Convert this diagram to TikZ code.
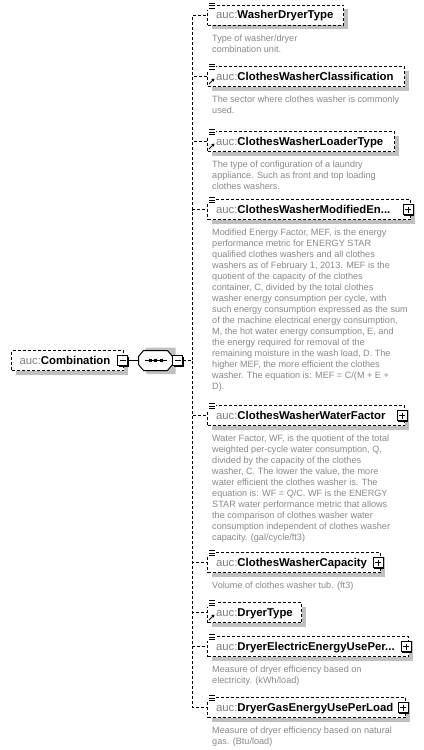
\documentclass[tikz,border=0pt]{standalone}
\usepackage{fontspec}
\setmainfont{Liberation Sans}
\usetikzlibrary{shadows,arrows.meta}
\setlength{\parindent}{0pt}
\definecolor{aucgray}{RGB}{128,128,128}
\definecolor{descgray}{RGB}{136,136,136}
\definecolor{shdgray}{RGB}{192,192,192}
\newcommand\aucp{\textcolor{aucgray}{\mdseries auc:}}
\newcommand\elemicon[1]{%
  \fill[white] ([shift={(-0.5,-3.5)}]#1.north west) rectangle ([shift={(9,5)}]#1.north west);
  \draw[line width=1bp] ([shift={(2,-1.5)}]#1.north west) -- ++(6,0)
    ([shift={(2,1)}]#1.north west) -- ++(6,0)
    ([shift={(2,3.5)}]#1.north west) -- ++(6,0);}
\newcommand\refarrow[1]{%
  \draw[line width=1bp, -{Triangle[length=2.8bp,width=3.2bp]}] ([shift={(2,-3)}]#1.south west) -- ++(5.5,-5.5);}
\tikzset{
  elem/.style={draw, dash pattern=on 3bp off 2bp, line width=1bp, fill=white, anchor=north west,
    minimum height=20bp, inner xsep=0pt, inner ysep=0pt, text height=8bp, text depth=1bp, align=left,
    font=\fontsize{11.4}{13}\selectfont\bfseries,
    general shadow={fill=shdgray, shadow xshift=4bp, shadow yshift=-4bp}},
  desc/.style={anchor=north west, inner sep=0pt, align=left, text=descgray, font=\fontsize{9.15}{11}\selectfont},
  btn/.style={draw, solid, line width=1bp, fill=white, minimum size=10bp, inner sep=0pt,
    general shadow={fill=black, shadow xshift=1bp, shadow yshift=-1bp}},
  minusbtn/.style={btn, path picture={\draw[line width=1bp] ([xshift=2bp]path picture bounding box.west) -- ([xshift=-2bp]path picture bounding box.east);}},
  plusbtn/.style={btn, path picture={\draw[line width=1bp] ([xshift=2bp]path picture bounding box.west) -- ([xshift=-2bp]path picture bounding box.east) ([yshift=-2bp]path picture bounding box.north) -- ([yshift=2bp]path picture bounding box.south);}},
  conn/.style={line width=1bp, dash pattern=on 3bp off 2bp},
  link/.style={line width=1bp},
}
\begin{document}
\begin{tikzpicture}[x=1bp,y=-1bp]
\useasboundingbox (0,0) rectangle (423,750);

% root element
\node[elem, text width=112bp] (root) at (11,350) {\hspace*{8bp}\aucp Combination};
\node[minusbtn] (m1) at (122.5,360.5) {};

% sequence compositor
\node[inner sep=0pt, minimum width=34bp, minimum height=20bp] (seq) at (155.5,360.5) {};
\fill[shdgray, shift={(seq.center)}] (-14,-7) -- (-9,-13) -- (20,-13) -- (20,13.5) -- (-9,13.5) -- cycle;
\draw[link, fill=white, shift={(seq.center)}] (-17,-4) -- (-12,-10) -- (12,-10) -- (17,-4) -- (17,4) -- (12,10) -- (-12,10) -- (-17,4) -- cycle;
\draw[link, shift={(seq.center)}] (-11,0) -- (11,0);
\foreach \dx in {-5.5,0,5.5} {\fill[shift={(seq.center)}] (\dx-1.5,-1.5) rectangle (\dx+1.5,1.5);}
\node[minusbtn] (m2) at (177.5,360.5) {};
\draw[link] (m1.east) -- (seq.west);
\coordinate (sp) at (192.5,360.5);

% children
\node[elem, text width=136bp] (c1) at (207,5) {\hspace*{8.5bp}\aucp WasherDryerType};
\node[desc] (d1) at ([shift={(5,8)}]c1.south west) {\rule{0pt}{7.5bp}Type of washer/dryer\\combination unit.};

\node[elem, text width=197bp] (c2) at (207,66) {\hspace*{8.5bp}\aucp ClothesWasherClassification};
\node[desc] (d2) at ([shift={(5,8)}]c2.south west) {\rule{0pt}{7.5bp}The sector where clothes washer is commonly\\used.};

\node[elem, text width=187bp] (c3) at (207,131) {\hspace*{8.5bp}\aucp ClothesWasherLoaderType};
\node[desc] (d3) at ([shift={(5,8)}]c3.south west) {\rule{0pt}{7.5bp}The type of configuration of a laundry\\appliance. Such as front and top loading\\clothes washers.};

\node[elem, text width=203bp] (c4) at (207,199) {\hspace*{8.5bp}\aucp ClothesWasherModifiedEn...};
\node[plusbtn] (p4) at ([xshift=-3bp]c4.east) {};
\node[desc] (d4) at ([shift={(5,8)}]c4.south west) {\rule{0pt}{7.5bp}Modified Energy Factor, MEF, is the energy\\performance metric for ENERGY STAR\\qualified clothes washers and all clothes\\washers as of February 1, 2013. MEF is the\\quotient of the capacity of the clothes\\container, C, divided by the total clothes\\washer energy consumption per cycle, with\\such energy consumption expressed as the sum\\of the machine electrical energy consumption,\\M, the hot water energy consumption, E, and\\the energy required for removal of the\\remaining moisture in the wash load, D. The\\higher MEF, the more efficient the clothes\\washer. The equation is: MEF = C/(M + E +\\D).};

\node[elem, text width=197bp] (c5) at (207,405) {\hspace*{8.5bp}\aucp ClothesWasherWaterFactor};
\node[plusbtn] (p5) at ([xshift=-3bp]c5.east) {};
\node[desc] (d5) at ([shift={(5,8)}]c5.south west) {\rule{0pt}{7.5bp}Water Factor, WF, is the quotient of the total\\weighted per-cycle water consumption, Q,\\divided by the capacity of the clothes\\washer, C. The lower the value, the more\\water efficient the clothes washer is. The\\equation is: WF = Q/C. WF is the ENERGY\\STAR water performance metric that allows\\the comparison of clothes washer water\\consumption independent of clothes washer\\capacity. (gal/cycle/ft3)};

\node[elem, text width=173bp] (c6) at (207,552) {\hspace*{8.5bp}\aucp ClothesWasherCapacity};
\node[plusbtn] (p6) at ([xshift=-3bp]c6.east) {};
\node[desc] (d6) at ([shift={(5,8)}]c6.south west) {\rule{0pt}{7.5bp}Volume of clothes washer tub. (ft3)};

\node[elem, text width=94bp] (c7) at (207,602) {\hspace*{8.5bp}\aucp DryerType};

\node[elem, text width=201bp] (c8) at (207,636) {\hspace*{8.5bp}\aucp DryerElectricEnergyUsePer...};
\node[plusbtn] (p8) at ([xshift=-3bp]c8.east) {};
\node[desc] (d8) at ([shift={(5,8)}]c8.south west) {\rule{0pt}{7.5bp}Measure of dryer efficiency based on\\electricity. (kWh/load)};

\node[elem, text width=198bp] (c9) at (207,697) {\hspace*{8.5bp}\aucp DryerGasEnergyUsePerLoad};
\node[plusbtn] (p9) at ([xshift=-3bp]c9.east) {};
\node[desc] (d9) at ([shift={(5,8)}]c9.south west) {\rule{0pt}{7.5bp}Measure of dryer efficiency based on natural\\gas. (Btu/load)};

% connectors from the sequence to each child
\foreach \c in {c1,c2,c3,c4,c5,c6,c7,c8,c9} {\draw[conn] (m2.east) -- (sp) |- (\c.west);}

% icons
\foreach \c in {c1,c2,c3,c4,c5,c6,c7,c8,c9} {\elemicon{\c}}
\foreach \c in {c2,c3,c7} {\refarrow{\c}}
\end{tikzpicture}
\end{document}
